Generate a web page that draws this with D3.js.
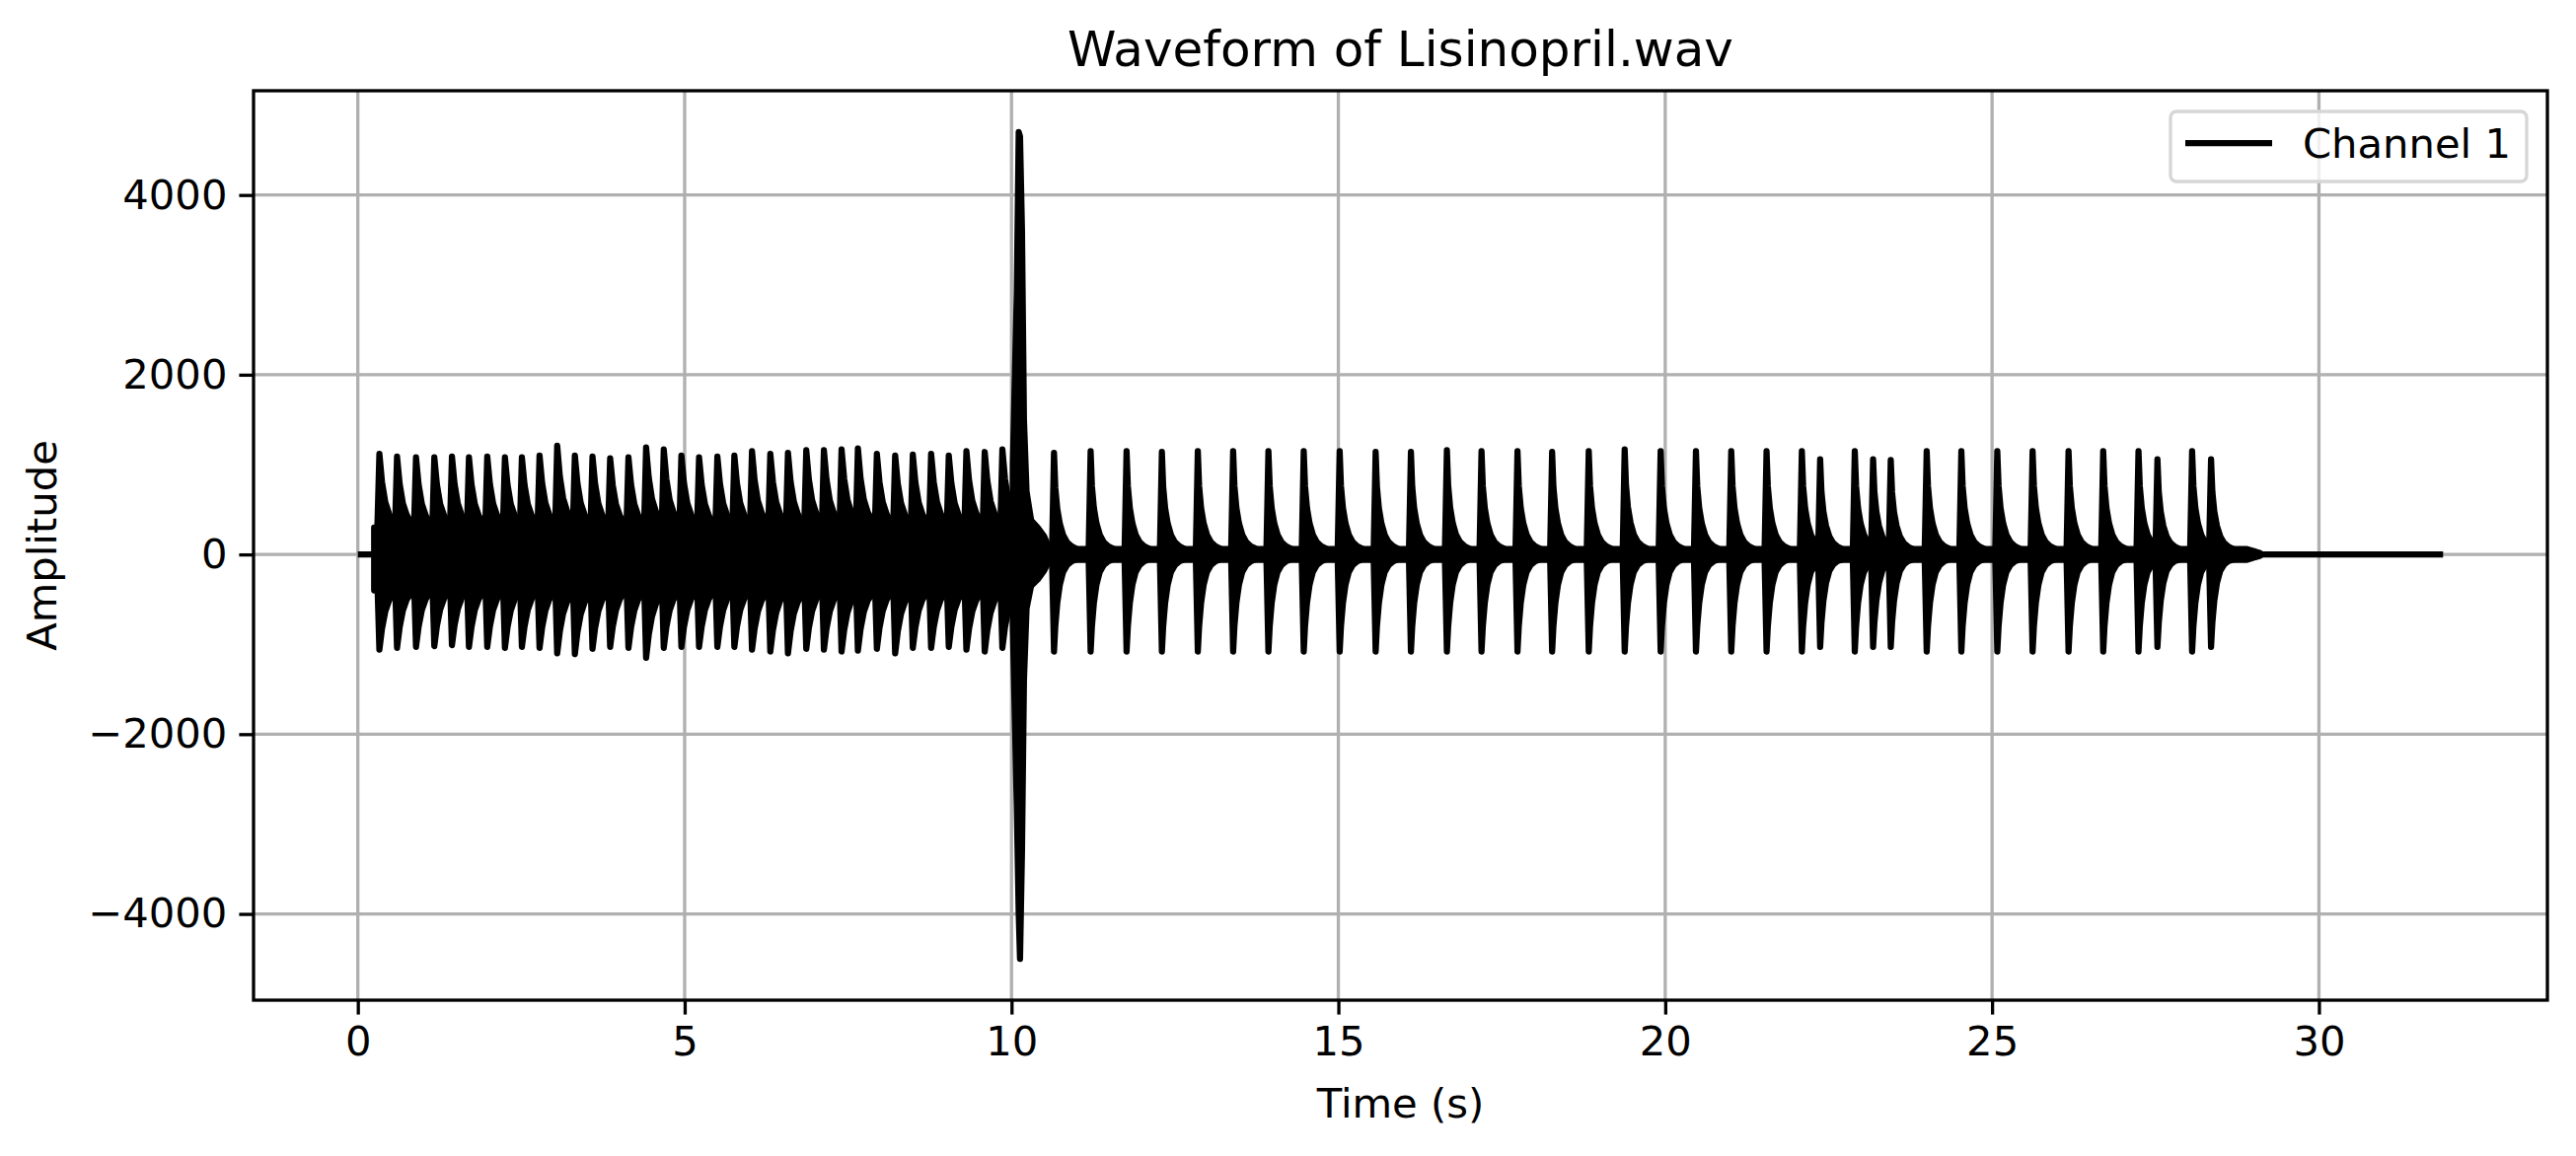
<!DOCTYPE html>
<html><head><meta charset="utf-8">
<script src="https://cdn.jsdelivr.net/npm/d3@7"></script>
<style>body{margin:0;background:#fff}text{font-family:"DejaVu Sans",sans-serif}</style>
</head><body><svg id="c" width="2611" height="1172"></svg>
<script>
// ---- data ----
const denseOnsets=[0.33,0.60,0.89,1.17,1.44,1.70,1.98,2.25,2.51,2.78,3.05,3.32,3.59,3.86,4.14,4.41,4.68,4.95,5.22,5.50,5.76,6.03,6.31,6.58,6.86,7.13,7.40,7.65,7.94,8.22,8.49,8.77,9.04,9.31,9.59,9.86];
const densePos=[1120,1090,1080,1080,1090,1080,1090,1080,1080,1100,1210,1100,1090,1070,1080,1190,1170,1100,1080,1090,1100,1150,1120,1130,1160,1160,1170,1180,1120,1100,1110,1120,1100,1150,1140,1170];
const denseNeg=[-1060,-1040,-1030,-1020,-1010,-1030,-1030,-1040,-1030,-1040,-1100,-1110,-1050,-1030,-1040,-1150,-1040,-1030,-1030,-1030,-1030,-1060,-1080,-1100,-1050,-1060,-1080,-1070,-1050,-1100,-1040,-1040,-1030,-1060,-1080,-1040];
const sparseOnsets=[10.65,11.21,11.76,12.30,12.85,13.39,13.93,14.47,15.02,15.57,16.11,16.66,17.19,17.74,18.27,18.83,19.38,19.93,20.47,21.01,21.55,22.09,22.37,22.90,23.18,23.45,24.00,24.53,25.08,25.62,26.17,26.70,27.24,27.53,28.06,28.35];
const sparsePos=[1130,1150,1150,1140,1150,1150,1150,1150,1150,1140,1140,1160,1150,1150,1140,1150,1170,1150,1150,1150,1150,1150,1060,1150,1060,1050,1150,1150,1150,1150,1150,1150,1150,1060,1150,1060];
const sparseNeg=[-1080,-1080,-1080,-1080,-1080,-1080,-1080,-1080,-1080,-1080,-1080,-1080,-1080,-1080,-1080,-1080,-1080,-1080,-1080,-1080,-1080,-1080,-1030,-1080,-1030,-1030,-1080,-1080,-1080,-1080,-1080,-1080,-1080,-1030,-1080,-1030];
const spikeT=[10.02,10.08,10.11,10.13,10.16,10.19,10.23,10.30,10.40,10.50,10.58];
const spikePos=[1000,2900,4700,4650,3600,1500,700,380,300,200,60];
const spikeNeg=[-800,-2800,-4000,-4500,-3300,-1400,-600,-350,-280,-180,-60];
const xTicks=[0,5,10,15,20,25,30];
const yTicks=[-4000,-2000,0,2000,4000];
const tStart=0.25, tEnd=31.9, tQuiet=29.1;

// ---- layout ----
const L=257,R=2582,T=92,B=1014;
const x=d3.scaleLinear().domain([-1.595,33.495]).range([L,R]);
const y=d3.scaleLinear().domain([-4960,5160]).range([B,T]);
const svg=d3.select("#c");
svg.append("defs").append("clipPath").attr("id","cp").append("rect").attr("x",L).attr("y",T).attr("width",R-L).attr("height",B-T);
const grid=svg.append("g").attr("stroke","#b0b0b0").attr("stroke-width",3.3);
xTicks.forEach(v=>grid.append("line").attr("x1",x(v)).attr("x2",x(v)).attr("y1",T).attr("y2",B));
yTicks.forEach(v=>grid.append("line").attr("y1",y(v)).attr("y2",y(v)).attr("x1",L).attr("x2",R));

const g=svg.append("g").attr("clip-path","url(#cp)");
const area=d3.area().x(d=>x(d[0])).y0(d=>y(d[2])).y1(d=>y(d[1]));
function draw(pts){g.append("path").datum(pts).attr("d",area).attr("fill","#000").attr("stroke","#000").attr("stroke-width",6.25).attr("stroke-linejoin","round");}
g.append("line").attr("x1",x(0)).attr("x2",x(tStart)).attr("y1",y(0)).attr("y2",y(0)).attr("stroke","#000").attr("stroke-width",6.25);
g.append("line").attr("x1",x(tQuiet)).attr("x2",x(tEnd)).attr("y1",y(0)).attr("y2",y(0)).attr("stroke","#000").attr("stroke-width",6.25);
draw([[tStart,300,-400],[denseOnsets[denseOnsets.length-1]+0.2,300,-400]]);
// decay shape templates
const dtS=[0,0.02,0.05,0.09,0.14,0.2,0.27,0.36,0.46];
const frS=[1,0.66,0.45,0.3,0.19,0.12,0.08,0.05,0.035];
const frSN=[1,0.74,0.5,0.31,0.18,0.11,0.07,0.045,0.03];
const dtD=[0,0.04,0.09,0.15,0.21,0.27];
const frD=[1,0.72,0.52,0.4,0.33,0.3];
const frDN=[1,0.78,0.6,0.48,0.42,0.4];
function burst(t0,p,n,dt,fr,frN,len,lead){
  const pts=[[t0-lead,60,-60]];
  dt.forEach((d,i)=>{if(d<=len)pts.push([t0+d,Math.max(p*fr[i],50),Math.min(n*frN[i],-50)]);});
  draw(pts);
}
denseOnsets.forEach((t,i)=>burst(t,densePos[i],denseNeg[i],dtD,frD,frDN,0.3,0.04));
draw([[10.55,60,-60],[28.9,60,-60],[tQuiet,15,-15]]);
sparseOnsets.forEach((t,i)=>burst(t,sparsePos[i],sparseNeg[i],dtS,frS,frSN,i===sparseOnsets.length-1?0.8:0.5,0.03));
draw(spikeT.map((t,i)=>[t,spikePos[i],spikeNeg[i]]));

// axes
const ax=svg.append("g").attr("transform",`translate(0,${B})`).call(d3.axisBottom(x).tickValues(xTicks).tickSize(14.6).tickPadding(12).tickFormat(d3.format("d")));
const ay=svg.append("g").attr("transform",`translate(${L},0)`).call(d3.axisLeft(y).tickValues(yTicks).tickSize(14.6).tickPadding(12).tickFormat(d=>d<0?"\u2212"+(-d):d));
[ax,ay].forEach(a=>{a.select(".domain").remove();a.selectAll("line").attr("stroke","#000").attr("stroke-width",3.3);a.selectAll("text").attr("font-size",41.7).attr("fill","#000").attr("font-family","DejaVu Sans");});
svg.append("rect").attr("x",L).attr("y",T).attr("width",R-L).attr("height",B-T).attr("fill","none").attr("stroke","#000").attr("stroke-width",3.3);

svg.append("text").attr("x",(L+R)/2).attr("y",67).attr("text-anchor","middle").attr("font-size",50).text("Waveform of Lisinopril.wav");
svg.append("text").attr("x",(L+R)/2).attr("y",1133).attr("text-anchor","middle").attr("font-size",41.7).text("Time (s)");
svg.append("text").attr("transform",`translate(57,${(T+B)/2}) rotate(-90)`).attr("text-anchor","middle").attr("font-size",41.7).text("Amplitude");

const lg=svg.append("g");
lg.append("rect").attr("x",2200).attr("y",113).attr("width",361).attr("height",71).attr("rx",6).attr("fill","#fff").attr("fill-opacity",0.8).attr("stroke","#d6d6d6").attr("stroke-width",3.3);
lg.append("line").attr("x1",2215).attr("x2",2303).attr("y1",145).attr("y2",145).attr("stroke","#000").attr("stroke-width",6.25);
lg.append("text").attr("x",2334).attr("y",160).attr("font-size",41.7).text("Channel 1");
</script></body></html>
